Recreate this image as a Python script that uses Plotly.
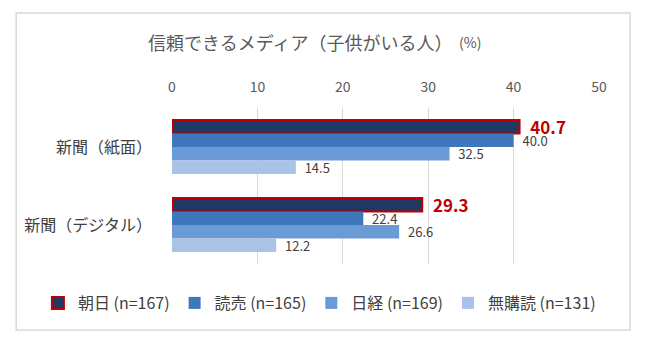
import plotly.graph_objects as go

categories = ["新聞（紙面）", "新聞（デジタル）"]
series_names = ["朝日 (n=167)", "読売 (n=165)", "日経 (n=169)", "無購読 (n=131)"]
asahi = [40.7, 29.3]
yomiuri = [40.0, 22.4]
nikkei = [32.5, 26.6]
none_ = [14.5, 12.2]
x_ticks = [0, 10, 20, 30, 40, 50]

values = [asahi, yomiuri, nikkei, none_]
fills = ["#1f3864", "#3f77bb", "#6b9bd6", "#a9c3e6"]
FONT = "Noto Sans CJK JP"
PAD = "\u00a0\u00a0"

fig = go.Figure()
for i, (name, vals, col) in enumerate(zip(series_names, values, fills)):
    first = i == 0
    fig.add_trace(go.Bar(
        y=categories, x=vals, name=name, orientation="h",
        marker=dict(color=col,
                    line=dict(color="#c00000" if first else col, width=2 if first else 0)),
        text=[f"{PAD}{v:.1f}" for v in vals], textposition="outside",
        constraintext="none", cliponaxis=False,
        textfont=dict(family=FONT, size=17 if first else 13,
                      color="#c00000" if first else "#404040",
                      weight="bold" if first else "normal"),
    ))

fig.update_layout(
    width=650, height=353,
    margin=dict(l=172, r=51, t=108, b=89),
    paper_bgcolor="white", plot_bgcolor="white",
    barmode="group", bargap=0.31, bargroupgap=0,
    font=dict(family=FONT, color="#595959"),
    showlegend=True,
    legend=dict(orientation="h", x=-0.314, xanchor="left", y=-0.25, yanchor="middle",
                font=dict(size=16, color="#404040"),
                itemwidth=30, traceorder="normal"),
    xaxis=dict(side="top", range=[0, 50], tickvals=x_ticks, showgrid=True,
               gridcolor="#d9d9d9", gridwidth=1, zeroline=False, showline=False,
               ticks="", tickfont=dict(size=14, color="#595959"), ticklabelstandoff=12),
    yaxis=dict(autorange="reversed", showgrid=False, showline=False, ticks="",
               tickfont=dict(size=16, color="#404040"), ticklabelstandoff=19),
    shapes=[dict(type="rect", xref="paper", yref="paper",
                 x0=-0.365, x1=1.0726, y0=-0.423, y1=1.609,
                 line=dict(color="#d9d9d9", width=1.5), layer="below")],
    annotations=[
        dict(text="信頼できるメディア（子供がいる人）", xref="paper", yref="paper",
             x=0.299, y=1.423, xanchor="center", yanchor="middle", showarrow=False,
             font=dict(size=18, color="#595959")),
        dict(text="(%)", xref="paper", yref="paper",
             x=0.699, y=1.423, xanchor="center", yanchor="middle", showarrow=False,
             font=dict(size=14, color="#595959")),
    ],
)

fig.write_html("out.html")
